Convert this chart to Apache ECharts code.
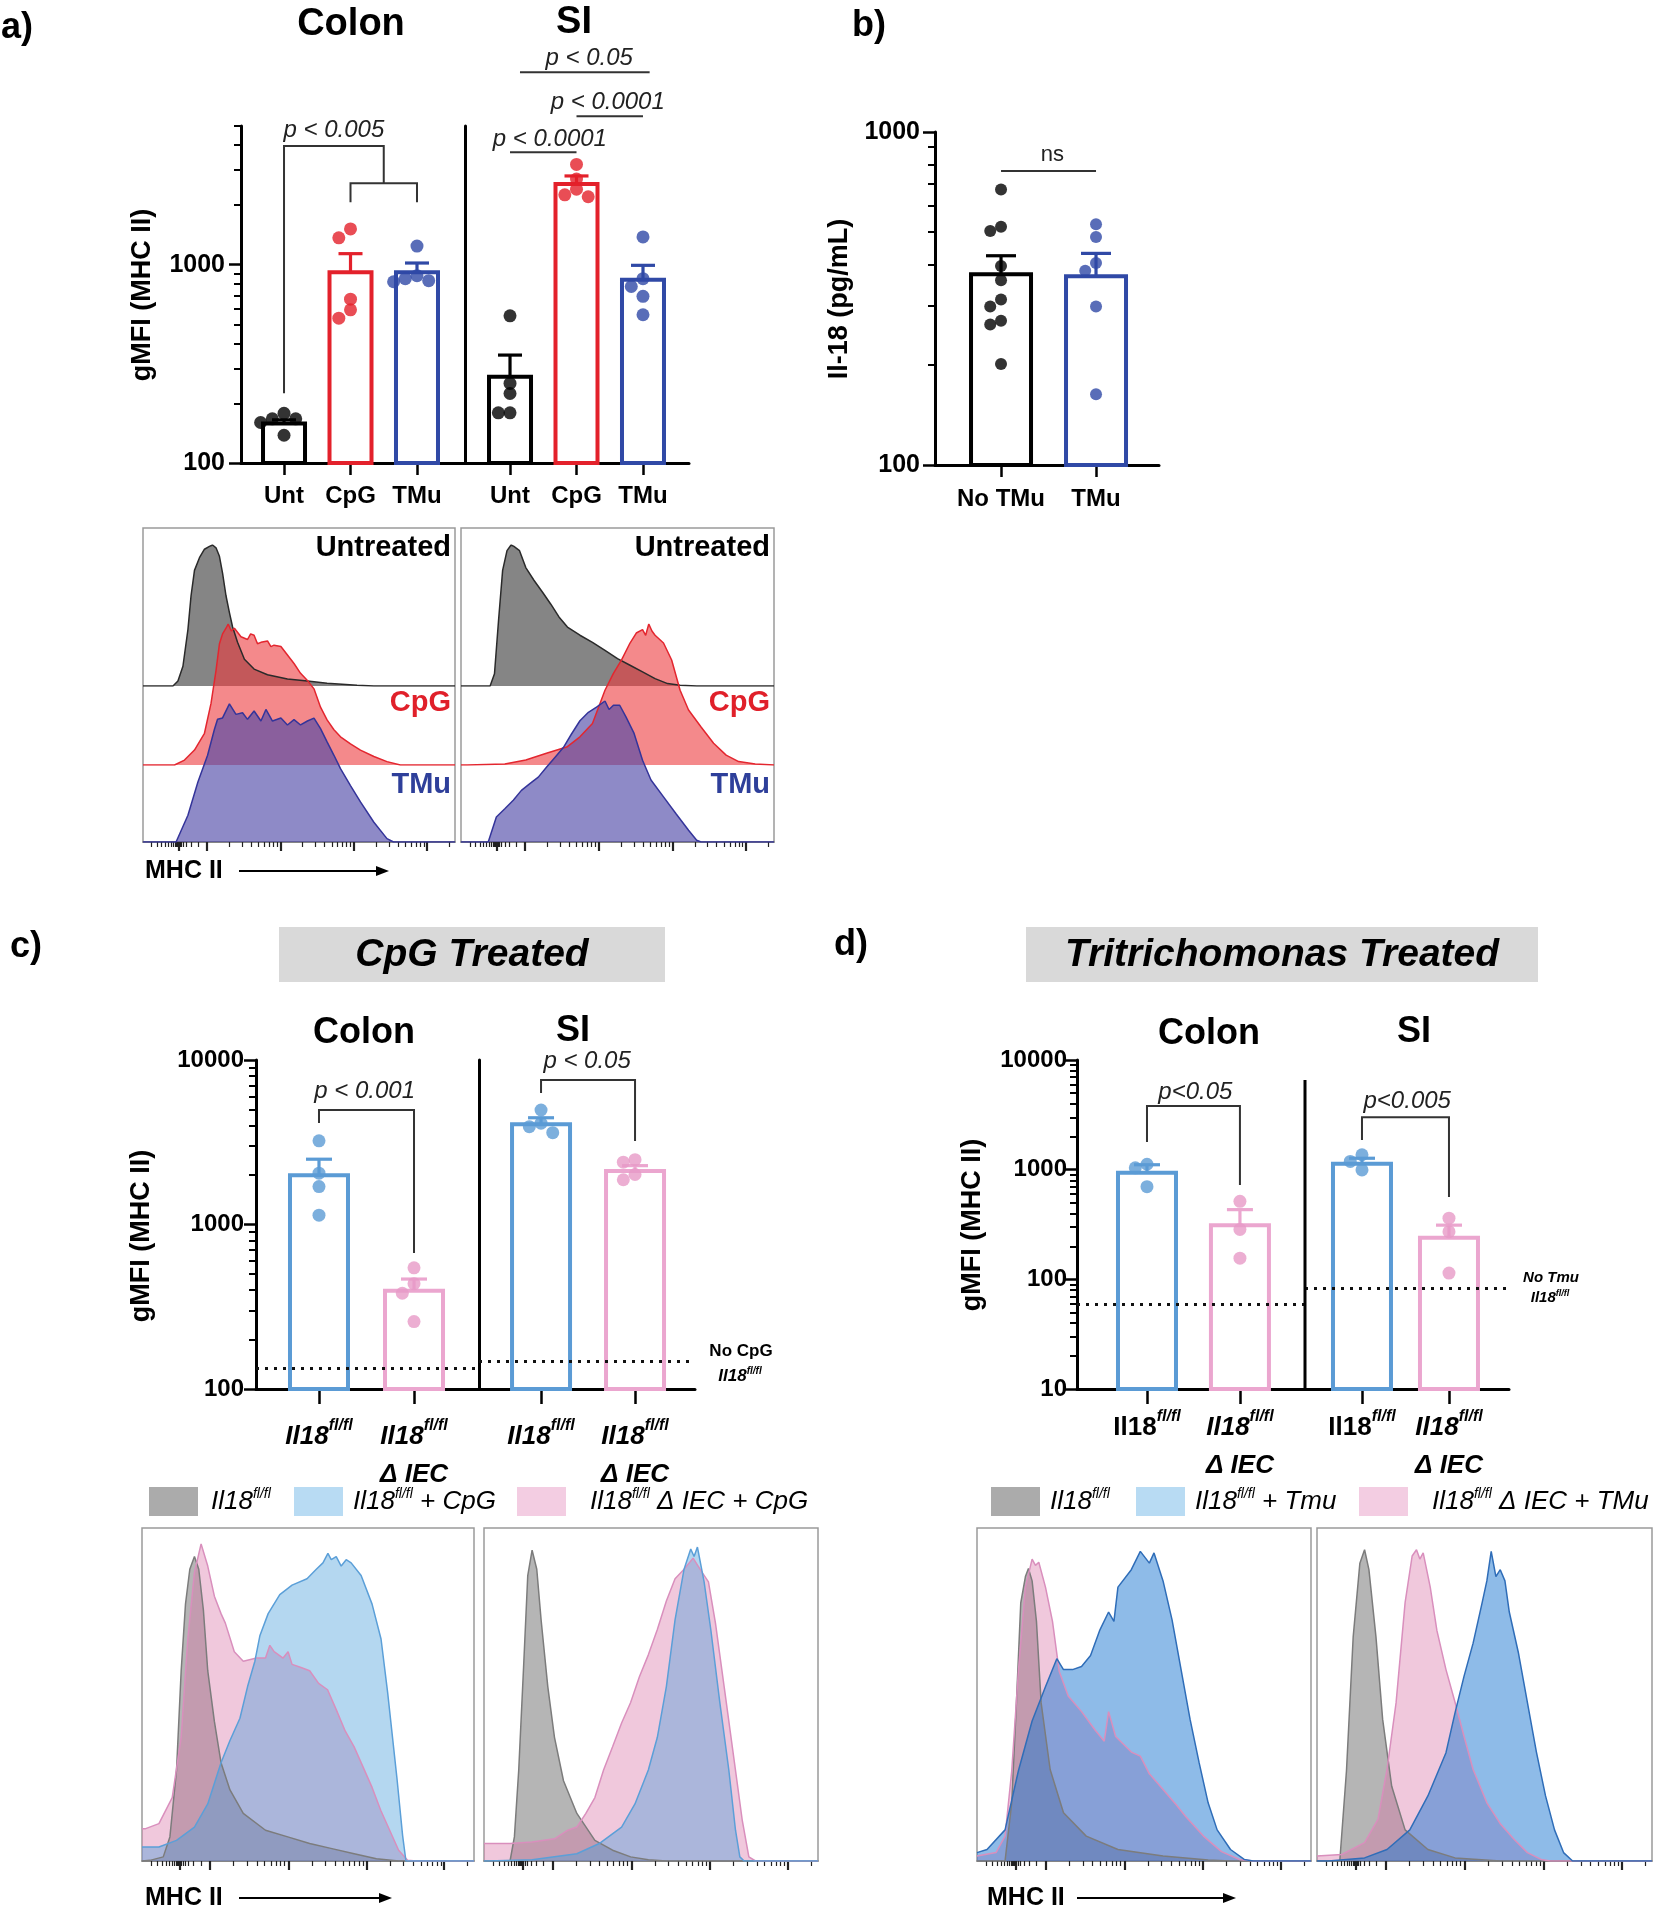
<!DOCTYPE html>
<html><head><meta charset="utf-8">
<script src="https://cdn.jsdelivr.net/npm/echarts@6/dist/echarts.min.js"></script>
<style>html,body{margin:0;padding:0;background:#fff}#c{width:1666px;height:1920px}</style>
</head><body><div id="c"></div>
<script>
const FONT = '"Liberation Sans", Arial, Helvetica, sans-serif';

// ================= DATA =================
// Panel a : gMFI (MHC II)
const aCategories = ['Unt', 'CpG', 'TMu'];
const aColonMean = [158, 915, 915];
const aColonSEM = [7, 221, 104];
const aColonDots = [[178, 167, 167, 160, 138], [1514, 1365, 670, 592, 537], [1240, 880, 850, 830, 820]];
const aSIMean = [272, 2550, 839];
const aSISEM = [78, 250, 153];
const aSIDots = [[552, 252, 224, 179, 179], [3200, 2700, 2400, 2250, 2200], [1380, 850, 776, 692, 559]];
const aYTicks = [100, 1000];
const aYMinor = [200, 300, 400, 500, 600, 700, 800, 900, 2000, 3000, 4000, 5000];

// Panel b : Il-18 (pg/mL)
const bCategories = ['No TMu', 'TMu'];
const bMean = [374, 369];
const bSEM = [51, 63];
const bDots = [[672, 519, 504, 396, 359, 314, 299, 271, 264, 201], [528, 484, 404, 383, 299, 163]];
const bYTicks = [100, 1000];
const bYMinor = [200, 300, 400, 500, 600, 700, 800, 900];

// Panel c : CpG treated
const cdCategories = ['Il18fl/fl', 'Il18fl/fl Δ IEC'];
const cColonMean = [1995, 395];
const cColonSEM = [499, 71];
const cColonDots = [[3226, 2050, 1700, 1140], [545, 437, 382, 257]];
const cSIMean = [4074, 2113];
const cSISEM = [381, 166];
const cSIDots = [[4966, 4130, 3935, 3615], [2478, 2394, 2014, 1871]];
const cBaseline = [133, 147]; // No CpG Il18fl/fl
const cYTicks = [100, 1000, 10000];
const cYMinor = [200, 300, 400, 500, 600, 700, 800, 900, 2000, 3000, 4000, 5000, 6000, 7000, 8000, 9000];

// Panel d : Tritrichomonas treated
const dColonMean = [935, 312];
const dColonSEM = [174, 120];
const dColonDots = [[1120, 1040, 700], [514, 285, 156]];
const dSIMean = [1135, 240];
const dSISEM = [136, 72];
const dSIDots = [[1368, 1190, 995], [361, 272, 114]];
const dBaseline = [58.7, 82.5]; // No Tmu Il18fl/fl
const dYTicks = [10, 100, 1000, 10000];
const dYMinor = [20, 30, 40, 50, 60, 70, 80, 90, 200, 300, 400, 500, 600, 700, 800, 900, 2000, 3000, 4000, 5000, 6000, 7000, 8000, 9000];

// Flow histograms (x: channel 0-1000, y: % of mode)
const histA_colon_unt = [[0,0],[96,0],[112,3.5],[128,14],[144,40],[154,64],[165,82],[181,91],[197,97],[213,99],[223,100],[234,98],[245,92],[255,80],[266,64],[277,52],[287,42],[303,31],[325,19],[356,12],[399,8],[463,5],[527,3.5],[590,2],[686,0.5],[740,0],[1000,0]];
const histA_colon_cpg = [[0,0],[101,0],[133,3.5],[165,10.6],[197,22.5],[218,43.7],[234,67],[245,86],[255,93],[266,97],[273,100],[283,95],[293,97],[314,91],[335,89],[345,93],[356,92],[367,86],[378,87],[399,88],[410,84],[420,85],[442,84],[463,78],[484,72],[505,65],[527,60],[548,54],[569,41],[590,32],[612,25],[633,20],[665,15],[697,10.6],[740,6],[782,2.4],[825,0],[1000,0]];
const histA_colon_tmu = [[0,0],[106,0],[144,19],[176,42.6],[207,61.5],[229,80],[239,87],[255,88],[277,98],[298,90.5],[319,91.7],[335,87],[356,92.9],[378,85.8],[394,94],[415,85.8],[442,87.9],[463,83],[484,86.8],[505,83],[527,85.8],[548,87.9],[569,80.4],[590,71],[612,61.5],[633,52],[665,40],[697,28.4],[740,14],[782,2.4],[803,0],[1000,0]];
const histA_si_unt = [[0,0],[93,0],[107,8.7],[120,46.6],[133,82],[147,96],[160,100],[169,99],[187,96],[207,84],[233,75],[260,66.7],[287,58],[313,49],[340,41.8],[380,36],[420,31],[460,25.3],[500,19.4],[540,14.7],[580,10],[620,5.2],[660,1.7],[700,0.5],[753,0],[1000,0]];
const histA_si_cpg = [[0,0],[20,0],[140,0.7],[207,3.5],[273,8.3],[340,13],[380,20],[420,29.5],[460,53],[487,65],[513,74.5],[540,86.5],[560,93.6],[580,96],[590,92],[600,100],[610,95],[620,92],[647,86.5],[673,74.5],[700,53],[727,39],[767,27],[807,15.4],[847,7],[887,2.4],[940,0.7],[1000,0]];
const histA_si_tmu = [[0,0],[87,0],[113,17.7],[140,23.6],[167,29.6],[193,36.6],[220,41.4],[247,46],[273,53],[300,60],[327,67],[353,76.6],[380,86],[407,92],[433,95.7],[460,100],[473,94],[487,97],[507,97],[527,88.7],[553,77],[580,58],[607,44],[647,32],[687,20],[727,8.3],[753,1.2],[767,0],[1000,0]];

const histC_colon_gray = [[0,0],[24,0.2],[64,1.3],[84,7.6],[104,28.7],[118,60],[131,81],[144,92],[158,96],[171,92],[185,79],[198,60],[218,44],[238,31],[265,22.4],[305,15],[372,9.7],[439,7.6],[505,5.5],[572,3.9],[639,2.3],[706,0.7],[773,0],[1000,0]];
const histC_colon_pink = [[0,10.2],[11,10.2],[51,11.8],[91,20],[118,39],[138,70],[158,91],[178,100],[198,93],[218,83.5],[238,78],[251,75],[278,66],[305,63],[345,64],[372,64],[385,68],[398,66],[425,64],[440,66],[452,62],[479,61],[505,60],[532,56],[559,54],[586,47.5],[612,41],[639,36],[666,29.6],[693,23.2],[719,16],[746,9.7],[773,3.4],[800,0.2],[826,0],[1000,0]];
const histC_colon_blue = [[0,4.4],[51,4.4],[104,6.5],[158,10.7],[198,18],[238,31],[265,38],[295,45],[318,55],[340,63],[355,71],[380,78],[415,84],[452,87],[497,89],[525,92],[545,94],[560,97],[570,95],[585,96],[600,93],[615,95],[630,94],[660,90],[693,81],[720,70],[740,53],[768,26],[785,8],[795,0],[1000,0]];
const histC_si_gray = [[0,0],[78,0],[91,7.6],[104,28.7],[118,60],[131,90],[144,98],[158,92],[171,76],[191,55],[211,39],[238,25.3],[278,15],[332,6.5],[385,3.4],[439,1.3],[492,0.4],[546,0],[1000,0]];
const histC_si_pink = [[0,5.5],[78,5.5],[144,6],[211,7],[251,9.7],[278,10.7],[305,15],[332,20],[358,28.7],[385,36],[412,43.5],[439,50],[465,58],[492,65],[519,73],[546,82],[572,89],[599,92],[626,95.5],[653,91],[672,88],[693,75],[719,55],[746,34],[773,13],[793,1.3],[813,0],[1000,0]];
const histC_si_blue = [[0,0],[11,0],[144,0.4],[278,2.3],[345,5.5],[412,10.7],[452,18],[492,28.7],[519,39],[546,55],[572,76],[599,92],[619,98.4],[629,96],[639,99],[659,88],[679,73],[706,50],[733,28.7],[753,9.7],[766,1.3],[779,0],[1000,0]];

const histD_colon_gray = [[0,0],[84,0],[104,18.7],[118,50.8],[131,82.9],[145,91.4],[154,94],[165,90],[178,77],[192,50.8],[219,29.4],[259,15.5],[327,8],[422,3.7],[557,1.6],[692,0.3],[759,0],[1000,0]];
const histD_colon_pink = [[0,1.6],[57,2.7],[84,8],[104,29],[124,61],[145,88],[165,97],[175,95],[185,96],[205,88],[226,77],[246,61],[273,53],[313,48],[354,42],[381,38.5],[394,48],[415,40],[462,35],[489,33.7],[516,28],[557,23],[597,18],[624,14.4],[678,8],[732,3],[786,0.5],[827,0],[1000,0]];
const histD_colon_blue = [[0,2.7],[30,3.7],[84,10],[124,29],[165,45],[205,56],[239,65],[259,61.5],[286,61.5],[313,62.5],[340,66],[367,74],[394,80],[410,77],[422,88],[462,93.6],[489,99.5],[516,95.7],[530,99],[557,90],[584,77.5],[611,61.5],[638,45.5],[665,31.6],[692,18.7],[719,10],[759,3.7],[800,0.5],[827,0],[1000,0]];
const histD_si_gray = [[0,0],[68,0],[88,29],[108,72],[128,95.7],[142,100],[155,93.6],[176,72],[196,45.5],[223,24],[263,10],[331,3.7],[412,1],[547,0],[1000,0]];
const histD_si_pink = [[0,1.6],[74,2.1],[142,5.9],[182,13.4],[209,29.4],[236,50.8],[263,83],[284,98],[297,100],[307,97],[317,99],[338,88],[358,74],[385,61.5],[412,51],[439,40],[466,29.4],[507,18.7],[547,12],[588,7],[628,2.7],[669,0.5],[696,0],[1000,0]];
const histD_si_blue = [[0,0],[34,0],[142,1],[209,3.7],[277,10],[331,20.9],[385,34.8],[412,47.6],[439,59.4],[466,70],[493,83],[507,90],[520,99.5],[534,91.4],[547,93.6],[561,90],[574,80],[601,67],[628,51],[655,35],[682,21],[709,10],[736,2.7],[763,0],[1000,0]];

// histogram axis ticks (biexponential display)
const histDecades = [205, 441, 676, 910];
const histDecadeStep = 235;
const histLinearTicks = [28, 46, 60, 72, 82, 90, 97, 103, 107, 110, 113, 116, 119, 123, 130, 140, 155, 178];
const histMajorTicks = [115, 205, 441, 676, 910];

// legends
const cLegend = ['Il18fl/fl', 'Il18fl/fl + CpG', 'Il18fl/fl Δ IEC + CpG'];
const dLegend = ['Il18fl/fl', 'Il18fl/fl + Tmu', 'Il18fl/fl Δ IEC + TMu'];

// ================= BUILD =================
const histMinorTicks = (function () {
  const t = histLinearTicks.slice();
  histDecades.forEach(d0 => { for (let k = 2; k <= 9; k++) { const v = d0 + histDecadeStep * Math.log10(k); if (v < 1000) t.push(Math.round(v)); } });
  return t;
})();

const grids = [], xAxes = [], yAxes = [], series = [];
const seriesIdx = {};

function addGrid(l, t, w, h, extra) {
  grids.push(Object.assign({ left: l, top: t, width: w, height: h, containLabel: false, outerBoundsMode: 'none', show: false }, extra || {}));
  return grids.length - 1;
}

function swarm(vals, decPx, diam) {
  const ys = vals.map(v => Math.log10(v) * decPx);
  const order = ys.map((y, i) => i).sort((a, b) => ys[b] - ys[a]);
  const placed = [], off = [];
  const cands = [0, -1, 1, -2, 2, -3, 3];
  order.forEach(i => {
    for (const c of cands) {
      const x = c * diam * 0.9;
      if (placed.every(p => Math.hypot(p.x - x, p.y - ys[i]) >= diam * 0.78)) { placed.push({ x, y: ys[i] }); off[i] = x; return; }
    }
    off[i] = 0;
  });
  return off;
}

function genoLabel(s, upright) {
  const m = s.match(/^(Il18)(fl\/fl)\s*(.*)$/);
  if (!m) return '{i|' + s + '}';
  if (m[3]) return '{i|' + m[1] + '}{s|' + m[2] + '}\n{i|' + m[3] + '}';
  return (upright ? '{u|' : '{i|') + m[1] + '}{s|' + m[2] + '}';
}

const genoRich = {
  i: { fontFamily: FONT, fontSize: 26, fontWeight: 'bold', fontStyle: 'italic', color: '#000', lineHeight: 38 },
  u: { fontFamily: FONT, fontSize: 26, fontWeight: 'bold', color: '#000', lineHeight: 38 },
  s: { fontFamily: FONT, fontSize: 16, fontWeight: 'bold', fontStyle: 'italic', color: '#000', lineHeight: 20, verticalAlign: 'top' }
};

function barPanel(key, g, d) {
  const gi = addGrid(g.left, g.top, g.width, g.height);
  const idx = d.categories.map((c, i) => i);
  const xi = xAxes.length;
  xAxes.push({
    type: 'value', gridIndex: gi, position: 'bottom', min: g.xMin, max: g.xMax,
    axisLine: { show: true, onZero: false, lineStyle: { color: '#000', width: 3 } },
    axisTick: { show: true, customValues: idx, length: g.tickLen, lineStyle: { color: '#000', width: 2.5 } },
    axisLabel: { show: true, customValues: idx, margin: g.labelMargin, formatter: v => g.labelFmt(d.categories[Math.round(v)], Math.round(v)),
      fontFamily: FONT, fontSize: 24, fontWeight: 'bold', color: '#000', rich: g.rich },
    splitLine: { show: false }
  });
  const yi = yAxes.length;
  yAxes.push({
    type: 'log', logBase: 10, gridIndex: gi, position: 'left', min: g.yMin, max: g.yMax,
    axisLine: { show: g.yLine !== false, onZero: false, lineStyle: { color: '#000', width: 3 } },
    axisTick: { show: !!g.showY, customValues: d.yTicks, length: 12, lineStyle: { color: '#000', width: 2.5 } },
    axisLabel: { show: !!g.showY, customValues: d.yTicks, margin: g.yLabelMargin || 14, formatter: v => String(Math.round(v)), fontFamily: FONT, fontSize: g.yLabelSize || 24, fontWeight: 'bold', color: '#000' },
    splitLine: { show: false }
  });
  if (g.showY) {
    yAxes.push({
      type: 'log', logBase: 10, gridIndex: gi, position: 'left', min: g.yMin, max: g.yMax,
      axisLine: { show: false, onZero: false },
      axisTick: { show: true, customValues: d.yMinor, length: 7, lineStyle: { color: '#000', width: 2 } },
      axisLabel: { show: false }, splitLine: { show: false }
    });
  }
  const colors = g.colors;
  seriesIdx[key] = series.length;
  series.push({
    type: 'custom', xAxisIndex: xi, yAxisIndex: yi, silent: true, z: 2,
    data: d.means.map((m, i) => [i, m, d.sems[i]]),
    encode: { x: 0, y: 1 },
    renderItem: function (params, api) {
      const i = params.dataIndex, x = api.value(0), m = api.value(1), s = api.value(2);
      const top = api.coord([x, m]), err = api.coord([x, m + s]);
      const cs = params.coordSys, bottom = cs.y + cs.height;
      const c = colors[i], bw = g.barW;
      return { type: 'group', children: [
        { type: 'line', shape: { x1: top[0], y1: top[1], x2: top[0], y2: err[1] }, style: { stroke: c, lineWidth: g.lw * 0.8 } },
        { type: 'line', shape: { x1: top[0] - g.cap / 2, y1: err[1], x2: top[0] + g.cap / 2, y2: err[1] }, style: { stroke: c, lineWidth: g.lw * 0.8 } },
        { type: 'rect', shape: { x: top[0] - bw / 2, y: top[1], width: bw, height: bottom - top[1] }, style: { fill: 'rgba(255,255,255,0)', stroke: c, lineWidth: g.lw } }
      ] };
    }
  });
  const unitPx = g.width / (g.xMax - g.xMin);
  const decPx = g.height / (Math.log10(g.yMax) - Math.log10(g.yMin));
  const pts = [];
  d.dots.forEach((vals, i) => {
    const offs = swarm(vals, decPx, g.dot);
    vals.forEach((v, j) => pts.push({ value: [i + offs[j] / unitPx, v], itemStyle: { color: (g.dotColors || colors)[i] } }));
  });
  const sc = { type: 'scatter', xAxisIndex: xi, yAxisIndex: yi, symbol: 'circle', symbolSize: g.dot, data: pts, silent: true, z: 3 };
  if (d.baseline != null) {
    sc.markLine = { silent: true, symbol: ['none', 'none'], label: { show: false }, animation: false,
      lineStyle: { color: '#111', width: 3, type: [3, 6] }, data: [{ yAxis: d.baseline }] };
  }
  series.push(sc);
}

function histGrid(left, top, width, height, yMax, frame) {
  const gi = addGrid(left, top, width, height, frame ? { show: true, borderColor: '#9a9a9a', borderWidth: 1.5 } : {});
  if (frame) {
    xAxes.push({ type: 'value', gridIndex: gi, position: 'bottom', min: 0, max: 1000,
      axisLine: { show: true, onZero: false, lineStyle: { color: '#777', width: 1.5 } },
      axisTick: { show: true, customValues: histMinorTicks, length: 5, lineStyle: { color: '#222', width: 1.2 } },
      axisLabel: { show: false }, splitLine: { show: false } });
    xAxes.push({ type: 'value', gridIndex: gi, position: 'bottom', min: 0, max: 1000,
      axisLine: { show: false, onZero: false },
      axisTick: { show: true, customValues: histMajorTicks, length: 9, lineStyle: { color: '#222', width: 2.2 } },
      axisLabel: { show: false }, splitLine: { show: false } });
  } else {
    xAxes.push({ type: 'value', gridIndex: gi, min: 0, max: 1000, show: false });
  }
  yAxes.push({ type: 'value', gridIndex: gi, min: 0, max: yMax, show: false });
  return { xi: frame ? xAxes.length - 2 : xAxes.length - 1, yi: yAxes.length - 1 };
}
function histSeries(ax, data, lineColor, fill, op) {
  series.push({ type: 'line', xAxisIndex: ax.xi, yAxisIndex: ax.yi, data: data, showSymbol: false, symbol: 'none', smooth: false, silent: true,
    lineStyle: { color: lineColor, width: 1.5 }, areaStyle: { color: fill, opacity: op, origin: 'start' }, z: 2 });
}

// ---------- panel a bars ----------
const aColors = ['#000000', '#e3212b', '#3049a6'];
const aFmt = s => s;
barPanel('aColon', { left: 241, top: 126, width: 224, height: 337, xMin: -0.647, xMax: 2.722, yMin: 100, yMax: 5000,
  showY: true, yLabelSize: 25, yLabelMargin: 16, barW: 42, lw: 4, cap: 24, dot: 13, colors: aColors,
  tickLen: 12, labelMargin: 21, labelFmt: aFmt },
  { categories: aCategories, means: aColonMean, sems: aColonSEM, dots: aColonDots, yTicks: aYTicks, yMinor: aYMinor });
barPanel('aSI', { left: 465, top: 126, width: 224, height: 337, xMin: -0.677, xMax: 2.692, yMin: 100, yMax: 5000,
  showY: false, barW: 42, lw: 4, cap: 24, dot: 13, colors: aColors, tickLen: 12, labelMargin: 21, labelFmt: aFmt },
  { categories: aCategories, means: aSIMean, sems: aSISEM, dots: aSIDots, yTicks: aYTicks, yMinor: aYMinor });

// ---------- panel b ----------
barPanel('b', { left: 935, top: 132, width: 224, height: 333, xMin: -0.695, xMax: 1.663, yMin: 100, yMax: 1000,
  showY: true, yLabelSize: 25, yLabelMargin: 15, barW: 60, lw: 4, cap: 30, dot: 12, colors: ['#000000', '#3049a6'],
  tickLen: 12, labelMargin: 22, labelFmt: aFmt },
  { categories: bCategories, means: bMean, sems: bSEM, dots: bDots, yTicks: bYTicks, yMinor: bYMinor });

// ---------- panel c ----------
const cdColors = ['#5b9bd5', '#eba6cf'];
const cdDotColors = ['#5b9bd5', '#e79ac7'];
barPanel('cColon', { left: 256, top: 1060, width: 223, height: 329, xMin: -0.663, xMax: 1.684, yMin: 100, yMax: 10000,
  showY: true, yLabelSize: 24, yLabelMargin: 12, barW: 58, lw: 4, cap: 26, dot: 13, colors: cdColors, dotColors: cdDotColors,
  tickLen: 15, labelMargin: 29, labelFmt: s => genoLabel(s, false), rich: genoRich },
  { categories: cdCategories, means: cColonMean, sems: cColonSEM, dots: cColonDots, yTicks: cYTicks, yMinor: cYMinor, baseline: cBaseline[0] });
barPanel('cSI', { left: 479, top: 1060, width: 216, height: 329, xMin: -0.66, xMax: 1.638, yMin: 100, yMax: 10000,
  showY: false, barW: 58, lw: 4, cap: 26, dot: 13, colors: cdColors, dotColors: cdDotColors,
  tickLen: 15, labelMargin: 29, labelFmt: s => genoLabel(s, false), rich: genoRich },
  { categories: cdCategories, means: cSIMean, sems: cSISEM, dots: cSIDots, yTicks: cYTicks, yMinor: cYMinor, baseline: cBaseline[1] });

// ---------- panel d ----------
barPanel('dColon', { left: 1077, top: 1060, width: 228, height: 329, xMin: -0.753, xMax: 1.70, yMin: 10, yMax: 10000,
  showY: true, yLabelSize: 24, yLabelMargin: 10, barW: 58, lw: 4, cap: 26, dot: 13, colors: cdColors, dotColors: cdDotColors,
  tickLen: 15, labelMargin: 20, labelFmt: s => genoLabel(s, true), rich: genoRich },
  { categories: cdCategories, means: dColonMean, sems: dColonSEM, dots: dColonDots, yTicks: dYTicks, yMinor: dYMinor, baseline: dBaseline[0] });
barPanel('dSI', { left: 1305, top: 1060, width: 204, height: 329, xMin: -0.655, xMax: 1.69, yMin: 10, yMax: 10000,
  showY: false, yLine: false, barW: 58, lw: 4, cap: 26, dot: 13, colors: cdColors, dotColors: cdDotColors,
  tickLen: 15, labelMargin: 20, labelFmt: s => genoLabel(s, true), rich: genoRich },
  { categories: cdCategories, means: dSIMean, sems: dSISEM, dots: dSIDots, yTicks: dYTicks, yMinor: dYMinor, baseline: dBaseline[1] });

// ---------- panel a histograms ----------
const RED_L = '#e3262f', RED_F = 'rgb(236,58,62)', BLU_L = '#34349a', BLU_F = 'rgb(78,72,168)', GRY_L = '#2a2a2a', GRY_F = '#858585';
[[143, 312, histA_colon_unt, histA_colon_cpg, histA_colon_tmu], [461, 313, histA_si_unt, histA_si_cpg, histA_si_tmu]].forEach(p => {
  histGrid(p[0], 528, p[1], 314, 100, true);
  const r1 = histGrid(p[0], 545, p[1], 141, 100, false);
  const r2 = histGrid(p[0], 624, p[1], 141, 100, false);
  const r3 = histGrid(p[0], 701, p[1], 141, 100, false);
  histSeries(r1, p[2], GRY_L, GRY_F, 1);
  histSeries(r2, p[3], RED_L, RED_F, 0.6);
  histSeries(r3, p[4], BLU_L, BLU_F, 0.64);
});

// ---------- panel c / d histograms ----------
const G_L = '#7c7c7c', G_F = 'rgb(120,120,120)', P_L = '#d98fbd', P_F = 'rgb(217,117,167)';
[[142, 332, histC_colon_gray, histC_colon_pink, histC_colon_blue], [484, 334, histC_si_gray, histC_si_pink, histC_si_blue]].forEach(p => {
  const ax = histGrid(p[0], 1528, p[1], 333, 105, true);
  histSeries(ax, p[2], G_L, G_F, 0.55);
  histSeries(ax, p[3], P_L, P_F, 0.4);
  histSeries(ax, p[4], '#5b9fd8', 'rgb(67,155,217)', 0.4);
});
[[977, 334, histD_colon_gray, histD_colon_pink, histD_colon_blue], [1317, 335, histD_si_gray, histD_si_pink, histD_si_blue]].forEach(p => {
  const ax = histGrid(p[0], 1528, p[1], 333, 107, true);
  histSeries(ax, p[2], G_L, G_F, 0.55);
  histSeries(ax, p[3], P_L, P_F, 0.4);
  histSeries(ax, p[4], '#2f6db8', 'rgb(30,120,210)', 0.5);
});

// ================= CHART =================
const chart = echarts.init(document.getElementById('c'), null, { renderer: 'canvas', width: 1666, height: 1920 });
chart.setOption({ animation: false, backgroundColor: '#ffffff', grid: grids, xAxis: xAxes, yAxis: yAxes, series: series });

// ---------- annotations (placed in data coordinates) ----------
const annotations = [
  { g: 'aColon', x1: 0, x2: 1.5, y: 3963, leg1: 225, leg2: 2576, label: 'p < 0.005', lx: 0.75, dy: 16 },
  { g: 'aColon', x1: 1, x2: 2, y: 2576, leg1: 2065, leg2: 2065, label: '' },
  { g: 'aSI', x1: 0, x2: 1, y: 3690, label: 'p < 0.0001', lx: 0.6, dy: 13 },
  { g: 'aSI', x1: 1, x2: 2, y: 5598, label: 'p < 0.0001', lx: 1.47, dy: 14 },
  { g: 'aSI', x1: 0.15, x2: 2.1, y: 9333, label: 'p < 0.05', lx: 1.19, dy: 14 },
  { g: 'b', x1: 0, x2: 1, y: 764, label: 'ns', lx: 0.54, dy: 16, plain: true },
  { g: 'cColon', x1: 0, x2: 1, y: 4966, leg1: 4140, leg2: 671, label: 'p < 0.001', lx: 0.48, dy: 19 },
  { g: 'cSI', x1: 0, x2: 1, y: 7551, leg1: 6295, leg2: 3219, label: 'p < 0.05', lx: 0.49, dy: 19 },
  { g: 'dColon', x1: 0, x2: 1, y: 3802, leg1: 1786, leg2: 724, label: 'p<0.05', lx: 0.52, dy: 14 },
  { g: 'dSI', x1: 0, x2: 1, y: 3013, leg1: 1862, leg2: 562, label: 'p<0.005', lx: 0.52, dy: 16 }
];

function T(x, y, text, o) {
  o = o || {};
  const st = { text: text, fill: o.color || '#000', fontFamily: FONT, fontSize: o.size || 24, fontWeight: o.weight || 'normal',
    fontStyle: o.style || 'normal', align: o.align || 'center', textAlign: o.align || 'center', verticalAlign: o.va || 'middle', textVerticalAlign: o.va || 'middle' };
  if (o.rich) st.rich = o.rich;
  const el = { type: 'text', x: x, y: y, silent: true, z: 50, style: st };
  if (o.rotation) el.rotation = o.rotation;
  return el;
}
function legendRich(s) {
  const m = s.match(/^(Il18)(fl\/fl)(.*)$/);
  return '{i|' + m[1] + '}{s|' + m[2] + '}' + (m[3] ? '{i|' + m[3] + '}' : '');
}
const legRich = {
  i: { fontFamily: FONT, fontSize: 26, fontStyle: 'italic', color: '#000', lineHeight: 30 },
  s: { fontFamily: FONT, fontSize: 14, fontStyle: 'italic', color: '#000', lineHeight: 16, verticalAlign: 'top' }
};

const g = [];
// panel letters and titles
g.push(T(1, 28, 'a)', { size: 36, weight: 'bold', align: 'left' }));
g.push(T(852, 26, 'b)', { size: 36, weight: 'bold', align: 'left' }));
g.push(T(10, 947, 'c)', { size: 36, weight: 'bold', align: 'left' }));
g.push(T(834, 945, 'd)', { size: 36, weight: 'bold', align: 'left' }));
g.push(T(351, 25, 'Colon', { size: 38, weight: 'bold' }));
g.push(T(574, 23, 'SI', { size: 38, weight: 'bold' }));
g.push(T(364, 1033, 'Colon', { size: 36, weight: 'bold' }));
g.push(T(573, 1031, 'SI', { size: 36, weight: 'bold' }));
g.push(T(1209, 1034, 'Colon', { size: 36, weight: 'bold' }));
g.push(T(1414, 1032, 'SI', { size: 36, weight: 'bold' }));
// axis titles
const R90 = Math.PI / 2;
g.push(T(143, 295, 'gMFI (MHC II)', { size: 27, weight: 'bold', rotation: R90 }));
g.push(T(840, 299, 'Il-18 (pg/mL)', { size: 27, weight: 'bold', rotation: R90 }));
g.push(T(142, 1236, 'gMFI (MHC II)', { size: 27, weight: 'bold', rotation: R90 }));
g.push(T(973, 1225, 'gMFI (MHC II)', { size: 27, weight: 'bold', rotation: R90 }));
// title boxes
g.push({ type: 'rect', silent: true, z: 1, shape: { x: 279, y: 927, width: 386, height: 55 }, style: { fill: '#d9d9d9' } });
g.push({ type: 'rect', silent: true, z: 1, shape: { x: 1026, y: 927, width: 512, height: 55 }, style: { fill: '#d9d9d9' } });
g.push(T(472, 955, 'CpG Treated', { size: 39, weight: 'bold', style: 'italic' }));
g.push(T(1282, 955, 'Tritrichomonas Treated', { size: 39, weight: 'bold', style: 'italic' }));
// histogram row labels (panel a)
[[451], [770]].forEach(p => {
  g.push(T(p[0], 548, 'Untreated', { size: 29, weight: 'bold', align: 'right' }));
  g.push(T(p[0], 703, 'CpG', { size: 29, weight: 'bold', align: 'right', color: '#e0202a' }));
  g.push(T(p[0], 785, 'TMu', { size: 29, weight: 'bold', align: 'right', color: '#2e3f9a' }));
});
// MHC II axis titles with arrows
[[145, 871, 239, 389], [145, 1898, 239, 392], [987, 1898, 1077, 1236]].forEach(p => {
  g.push(T(p[0], p[1], 'MHC II', { size: 25, weight: 'bold', align: 'left' }));
  g.push({ type: 'line', silent: true, z: 50, shape: { x1: p[2], y1: p[1], x2: p[3] - 8, y2: p[1] }, style: { stroke: '#000', lineWidth: 2 } });
  g.push({ type: 'polygon', silent: true, z: 50, shape: { points: [[p[3], p[1]], [p[3] - 13, p[1] - 5], [p[3] - 13, p[1] + 5]] }, style: { fill: '#000' } });
});
// d separator
g.push({ type: 'line', silent: true, z: 50, shape: { x1: 1305, y1: 1080, x2: 1305, y2: 1389 }, style: { stroke: '#000', lineWidth: 3 } });
// dotted line labels
g.push(T(741, 1351, 'No CpG', { size: 17, weight: 'bold' }));
g.push(T(740, 1376, '{i|Il18}{s|fl/fl}', { rich: {
  i: { fontFamily: FONT, fontSize: 17, fontWeight: 'bold', fontStyle: 'italic', color: '#000', lineHeight: 20 },
  s: { fontFamily: FONT, fontSize: 10, fontWeight: 'bold', fontStyle: 'italic', color: '#000', lineHeight: 12, verticalAlign: 'top' } } }));
g.push(T(1551, 1278, 'No Tmu', { size: 15, weight: 'bold', style: 'italic' }));
g.push(T(1550, 1298, '{i|Il18}{s|fl/fl}', { rich: {
  i: { fontFamily: FONT, fontSize: 15, fontWeight: 'bold', fontStyle: 'italic', color: '#000', lineHeight: 18 },
  s: { fontFamily: FONT, fontSize: 9, fontWeight: 'bold', fontStyle: 'italic', color: '#000', lineHeight: 10, verticalAlign: 'top' } } }));
// legends
const legFills = ['#ababab', '#b8dbf3', '#f3cde2'];
[[cLegend, [149, 294, 517], [211, 353, 590]], [dLegend, [991, 1136, 1359], [1050, 1195, 1432]]].forEach(L => {
  L[0].forEach((s, i) => {
    g.push({ type: 'rect', silent: true, z: 50, shape: { x: L[1][i], y: 1487, width: 49, height: 29 }, style: { fill: legFills[i] } });
    g.push(T(L[2][i], 1502, legendRich(s), { align: 'left', rich: legRich }));
  });
});
// significance brackets
annotations.forEach(a => {
  const si = seriesIdx[a.g];
  const P = (x, y) => chart.convertToPixel({ seriesIndex: si }, [x, y]);
  const pts = [];
  if (a.leg1 != null) pts.push(P(a.x1, a.leg1));
  pts.push(P(a.x1, a.y), P(a.x2, a.y));
  if (a.leg2 != null) pts.push(P(a.x2, a.leg2));
  g.push({ type: 'polyline', silent: true, z: 50, shape: { points: pts }, style: { stroke: '#333', lineWidth: 2, fill: null } });
  if (a.label) {
    const q = P(a.lx, a.y);
    g.push(T(q[0], q[1] - a.dy, a.label, { size: a.plain ? 22 : 24, style: a.plain ? 'normal' : 'italic', color: '#222' }));
  }
});

chart.setOption({ graphic: { elements: g } });
</script></body></html>
